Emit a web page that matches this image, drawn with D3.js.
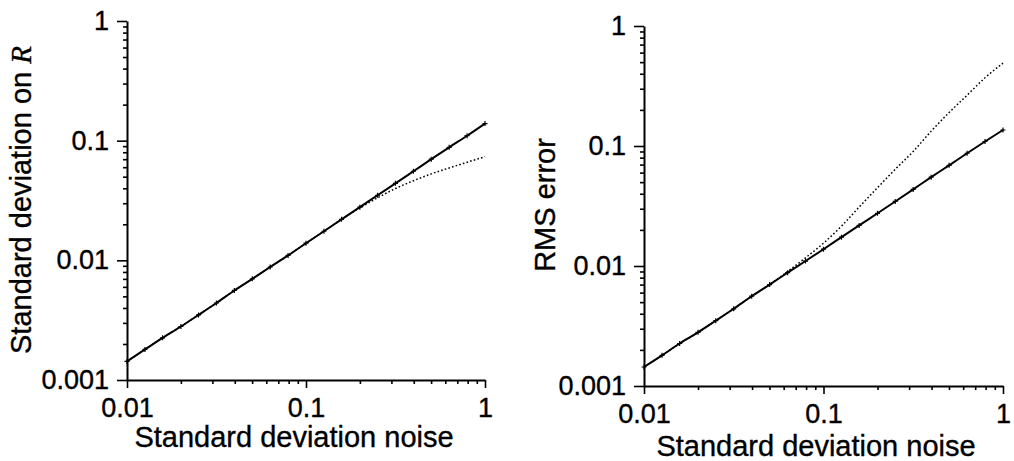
<!DOCTYPE html>
<html>
<head>
<meta charset="utf-8">
<script src="https://cdn.jsdelivr.net/npm/d3@7"></script>
<style>
  body { margin: 0; background: #fff; }
  svg { display: block; }
  text { font-family: "Liberation Sans", Arial, Helvetica, sans-serif; fill: #000; stroke: #000; stroke-width: 0.35px; }
</style>
</head>
<body>
<div id="plot"></div>
<script>
// noise levels (x), same for both panels
const noise = [0.01, 0.0126, 0.0158, 0.02, 0.0251, 0.0316, 0.0398, 0.0501, 0.0631, 0.0794,
               0.1, 0.126, 0.158, 0.2, 0.251, 0.316, 0.398, 0.501, 0.631, 0.794, 1];

// left panel: standard deviation on R
const leftSolid = [0.00143, 0.0018, 0.00225, 0.0028, 0.0035, 0.0044, 0.0056, 0.007, 0.0088, 0.011,
                   0.0139, 0.0175, 0.022, 0.0278, 0.035, 0.044, 0.0555, 0.07, 0.088, 0.11, 0.139];
const leftDotted = [0.00143, 0.0018, 0.00225, 0.0028, 0.0035, 0.0044, 0.0056, 0.007, 0.0088, 0.011,
                    0.0139, 0.0175, 0.022, 0.0274, 0.0333, 0.0398, 0.0462, 0.0528, 0.0592, 0.066, 0.0735];

// right panel: RMS error
const rightSolid = [0.00144, 0.0018, 0.00226, 0.0028, 0.0035, 0.0044, 0.0056, 0.007, 0.0088, 0.011,
                    0.0138, 0.0174, 0.0218, 0.0275, 0.0345, 0.0435, 0.055, 0.069, 0.087, 0.109, 0.136];
const rightDotted = [0.00144, 0.0018, 0.00226, 0.0028, 0.0035, 0.0044, 0.0056, 0.007, 0.009, 0.0117,
                     0.0155, 0.0215, 0.031, 0.045, 0.064, 0.09, 0.133, 0.19, 0.265, 0.37, 0.49];

const xTicks = [0.01, 0.1, 1];
const xTickLabels = ["0.01", "0.1", "1"];
const yTicks = [0.001, 0.01, 0.1, 1];
const yTickLabels = ["0.001", "0.01", "0.1", "1"];

const w = 1014;
const h = 461;

const svg = d3.select("div#plot")
    .append("svg")
    .attr("width", w)
    .attr("height", h);

svg.append("rect").attr("width", w).attr("height", h).attr("fill", "#fff");

function drawPanel(p) {
  const xScale = d3.scaleLog().domain([0.01, 1]).range([p.left, p.right]);
  const yScale = d3.scaleLog().domain([0.001, 1]).range([p.bottom, p.top]);

  const g = svg.append("g");

  // minor ticks first
  const xMinor = xScale.ticks().filter(d => !xTicks.some(t => Math.abs(t - d) < 1e-9));
  const yMinor = yScale.ticks().filter(d => !yTicks.some(t => Math.abs(t - d) < 1e-9));

  g.append("g")
      .attr("transform", `translate(0, ${p.bottom})`)
      .call(d3.axisBottom(xScale).tickValues(xMinor).tickSize(4).tickFormat(""))
      .call(a => a.select(".domain").remove());

  g.append("g")
      .attr("transform", `translate(${p.left}, 0)`)
      .call(d3.axisLeft(yScale).tickValues(yMinor).tickSize(4).tickFormat(""))
      .call(a => a.select(".domain").remove());

  // major ticks + labels
  g.append("g")
      .attr("transform", `translate(0, ${p.bottom})`)
      .call(d3.axisBottom(xScale).tickValues(xTicks).tickSize(8).tickSizeOuter(0)
            .tickPadding(10).tickFormat((d, i) => xTickLabels[i]));

  g.append("g")
      .attr("transform", `translate(${p.left}, 0)`)
      .call(d3.axisLeft(yScale).tickValues(yTicks).tickSize(10).tickSizeOuter(0)
            .tickPadding(8).tickFormat((d, i) => yTickLabels[i]));

  g.selectAll(".tick line").attr("stroke", "#000").attr("stroke-width", 1.6);
  g.selectAll(".domain").attr("stroke", "#000").attr("stroke-width", 2);
  g.selectAll(".tick text").attr("font-size", 27).attr("font-family", "Liberation Sans, Arial, sans-serif");

  // x title
  g.append("text")
      .attr("x", p.xTitleX)
      .attr("y", p.xTitleY)
      .attr("text-anchor", "middle")
      .attr("font-size", 29)
      .text("Standard deviation noise");

  // y title
  const yt = g.append("text")
      .attr("transform", `translate(${p.yTitleX}, ${p.yTitleY}) rotate(-90)`)
      .attr("text-anchor", "middle")
      .attr("font-size", 29);
  yt.append("tspan").text(p.yTitle);
  if (p.yItalic) {
    yt.append("tspan")
        .attr("font-family", "Liberation Serif, Times New Roman, serif")
        .attr("font-style", "italic")
        .text(p.yItalic);
  }

  const line = d3.line()
      .curve(d3.curveMonotoneX)
      .x(d => xScale(d[0]))
      .y(d => yScale(d[1]));

  g.append("path")
      .datum(noise.map((x, i) => [x, p.dotted[i]]))
      .attr("fill", "none")
      .attr("stroke", "#000")
      .attr("stroke-width", 1.5)
      .attr("stroke-dasharray", "1.6,2.2")
      .attr("d", line);

  g.append("path")
      .datum(noise.map((x, i) => [x, p.solid[i]]))
      .attr("fill", "none")
      .attr("stroke", "#000")
      .attr("stroke-width", 2)
      .attr("d", line);

  // little cross markers on the solid series
  g.selectAll(".mark")
      .data(noise.map((x, i) => [x, p.solid[i]]))
      .enter()
      .append("path")
      .attr("class", "mark")
      .attr("transform", d => `translate(${xScale(d[0])}, ${yScale(d[1])})`)
      .attr("d", "M-2.5,0H2.5M0,-2.5V2.5")
      .attr("stroke", "#000")
      .attr("stroke-width", 1.2);
}

drawPanel({
  left: 127, right: 485, top: 21, bottom: 380,
  solid: leftSolid, dotted: leftDotted,
  xTitleX: 294, xTitleY: 447,
  yTitle: "Standard deviation on ", yItalic: "R",
  yTitleX: 31, yTitleY: 200
});

drawPanel({
  left: 644, right: 1003, top: 26, bottom: 386,
  solid: rightSolid, dotted: rightDotted,
  xTitleX: 816, xTitleY: 456,
  yTitle: "RMS error", yItalic: null,
  yTitleX: 555, yTitleY: 205
});
</script>
</body>
</html>
